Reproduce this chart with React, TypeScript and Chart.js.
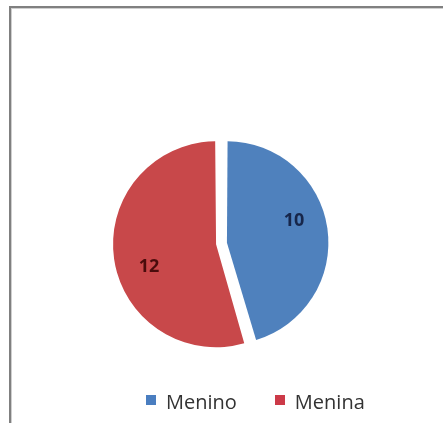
import React, { useEffect, useRef } from "react";
import { Chart, registerables } from "chart.js";

Chart.register(...registerables);

const categories = ["Menino", "Menina"];
const values = [10, 12];
const sliceColors = ["#4F81BD", "#C8484A"];
const legendColors = ["#4A7EC0", "#CC3A48"];
const valueLabelColors = ["#17264a", "#4a0c0c"];

const LABEL_ANGLE_SHIFT = (-9.5 * Math.PI) / 180;
const LABEL_RADIUS = 0.78;

const sliceLabels = {
  id: "sliceLabels",
  afterDatasetsDraw(chart: any) {
    const meta = chart.getDatasetMeta(0);
    const ctx = chart.ctx;
    ctx.save();
    ctx.font = "bold 18px 'Open Sans'";
    ctx.textAlign = "center";
    ctx.textBaseline = "middle";
    meta.data.forEach((arc: any, i: number) => {
      const p = arc.getProps(["x", "y", "startAngle", "endAngle", "outerRadius"], true);
      const mid = (p.startAngle + p.endAngle) / 2 + LABEL_ANGLE_SHIFT;
      const r = p.outerRadius * LABEL_RADIUS;
      ctx.fillStyle = valueLabelColors[i];
      ctx.fillText(String(values[i]), p.x + Math.cos(mid) * r, p.y + Math.sin(mid) * r);
    });
    ctx.restore();
  },
};

export default function App() {
  const ref = useRef<HTMLCanvasElement | null>(null);
  useEffect(() => {
    if (!ref.current) return;
    const chart = new Chart(ref.current, {
      type: "pie",
      data: {
        labels: categories,
        datasets: [
          {
            data: values,
            backgroundColor: sliceColors,
            borderWidth: 0,
            offset: 22,
            hoverOffset: 0,
            radius: 97.5,
          },
        ],
      },
      options: {
        responsive: false,
        animation: false,
        events: [],
        layout: { padding: { left: 1, right: 1, top: 62, bottom: 0 } },
        plugins: {
          tooltip: { enabled: false },
          legend: { display: false },
        },
      },
      plugins: [sliceLabels],
    });
    return () => chart.destroy();
  }, []);

  return (
    <div
      style={{
        position: "absolute",
        left: 0,
        top: 0,
        width: 443,
        height: 425,
        overflow: "hidden",
        background: "#ffffff",
      }}
    >
      <div
        style={{
          position: "absolute",
          left: 9,
          top: 6,
          width: 450,
          height: 415,
          borderTop: "2px solid #808080",
          borderLeft: "2px solid #808080",
          boxShadow: "inset 1px 1px 0 #cfcfcf",
        }}
      />
      <canvas ref={ref} width={443} height={425} style={{ position: "absolute", left: 0, top: 0 }} />
      <div
        style={{
          position: "absolute",
          left: 146,
          top: 392,
          display: "flex",
          gap: 38,
          fontFamily: "'Open Sans'",
          fontSize: 20,
          lineHeight: "20px",
          color: "#333333",
          whiteSpace: "nowrap",
        }}
      >
        {categories.map((c, i) => (
          <div key={c} style={{ display: "flex", alignItems: "center" }}>
            <span
              style={{
                display: "inline-block",
                width: 10,
                height: 10,
                marginRight: 10,
                background: legendColors[i],
                position: "relative",
                top: -2,
              }}
            />
            <span>{c}</span>
          </div>
        ))}
      </div>
    </div>
  );
}
